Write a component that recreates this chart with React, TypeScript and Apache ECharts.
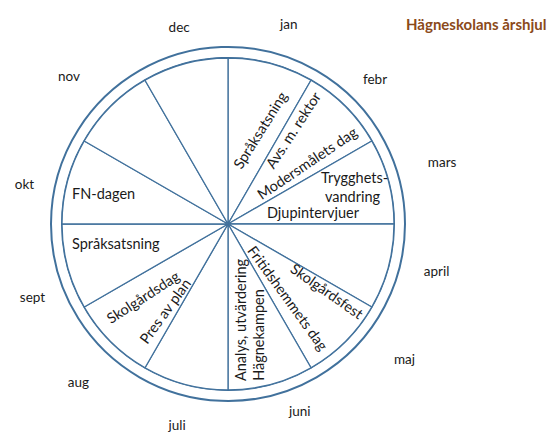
import React, { useEffect, useRef } from "react";
import * as echarts from "echarts";

// ---- data ----
const months = ["jan", "febr", "mars", "april", "maj", "juni", "juli", "aug", "sept", "okt", "nov", "dec"];
const monthShare = [1, 1, 1, 1, 1, 1, 1, 1, 1, 1, 1, 1];
const eventTexts = [
  "Språksatsning",
  "Avs. m. rektor",
  "Modersmålets dag",
  "Trygghets-",
  "vandring",
  "Djupintervjuer",
  "FN-dagen",
  "Språksatsning",
  "Skolgårdsdag",
  "Pres av plan",
  "Analys, utvärdering",
  "Hägnekampen",
  "Fritidshemmets dag",
  "Skolgårdsfest",
];
const eventMonths = ["jan", "febr", "febr", "mars", "mars", "mars", "okt", "sept", "aug", "aug", "juni", "juni", "maj", "maj"];
const titleText = "Hägneskolans årshjul";

// ---- layout (offsets from wheel centre, rotation in degrees) ----
const CX = 228;
const CY = 224;
const R_OUT = 177;
const R_IN = 166;
// per-month label nudges as padding [top, right, bottom, left]
const monthLabelPadding: number[][] = [
  [0, 0, 18, 28],
  [0, 0, 10, 7],
  [0, 0, 0, 25],
  [0, 0, 0, 21],
  [0, 0, 0, 38],
  [5, 0, 0, 50],
  [19, 8, 0, 0],
  [23, 11, 0, 0],
  [0, 8, 0, 0],
  [0, 19, 0, 0],
  [0, 20, 13, 0],
  [0, 4, 15, 0],
];
// vertical nudge for side labels (middle aligned): negative = up
const monthLabelVShift = [0, 0, -15, 0, 0, 0, 0, 0, 26, 7, 0, 0];

const eventLayout: { dx: number; dy: number; rot: number; align: string }[] = [
  { dx: 32, dy: -94, rot: 58, align: "center" },
  { dx: 65, dy: -94, rot: 57, align: "center" },
  { dx: 79, dy: -61, rot: 34, align: "center" },
  { dx: 93, dy: -47, rot: 0, align: "left" },
  { dx: 97, dy: -28, rot: 0, align: "left" },
  { dx: 85, dy: -12, rot: 0, align: "center" },
  { dx: -156, dy: -31, rot: 0, align: "left" },
  { dx: -156, dy: 19, rot: 0, align: "left" },
  { dx: -85, dy: 73, rot: 33, align: "center" },
  { dx: -63, dy: 87, rot: 54, align: "center" },
  { dx: 12, dy: 96, rot: 90, align: "center" },
  { dx: 30, dy: 111, rot: 90, align: "center" },
  { dx: 60, dy: 74, rot: -54, align: "center" },
  { dx: 99, dy: 67, rot: -35, align: "center" },
];

const LINE = "#41719C";
const FONT = "Lato, 'Open Sans', sans-serif";

export default function App() {
  const ref = useRef<HTMLDivElement>(null);
  useEffect(() => {
    if (!ref.current) return;
    const chart = echarts.init(ref.current, null, { renderer: "svg" });
    const graphics = eventTexts.map((t, i) => {
      const l = eventLayout[i];
      return {
        type: "text",
        x: CX + l.dx,
        y: CY + l.dy,
        rotation: (l.rot * Math.PI) / 180,
        z: 100,
        silent: true,
        info: eventMonths[i],
        style: {
          text: t,
          fill: "#1a1a1a",
          font: `14.5px ${FONT}`,
          align: l.align,
          verticalAlign: "middle",
        },
      };
    });
    chart.setOption({
      animation: false,
      backgroundColor: "#ffffff",
      title: {
        text: titleText,
        left: 401,
        top: 11,
        textStyle: { color: "#8B4A1A", fontSize: 15, fontWeight: "bold", fontFamily: FONT },
      },
      polar: [
        { center: [CX, CY], radius: R_OUT },
        { center: [CX, CY], radius: R_IN },
      ],
      angleAxis: [
        {
          polarIndex: 0,
          type: "category",
          data: months.map((m, i) => {
            const vs = monthLabelVShift[i];
            const ts: any = { padding: monthLabelPadding[i] };
            if (vs !== 0) ts.lineHeight = Math.abs(vs) * 2;
            return { value: m, textStyle: ts };
          }),
          startAngle: 90,
          clockwise: true,
          axisLine: { show: true, lineStyle: { color: LINE, width: 2 } },
          axisTick: { show: false },
          splitLine: { show: false },
          axisLabel: {
            margin: 4,
            fontSize: 13.5,
            color: "#1a1a1a",
            fontFamily: FONT,
            formatter: (value: string, index: number) => {
              const vs = monthLabelVShift[index];
              if (vs < 0) return value + "\n";
              if (vs > 0) return "\n" + value;
              return value;
            },
          },
        },
        {
          polarIndex: 1,
          type: "category",
          data: months,
          startAngle: 90,
          clockwise: true,
          axisLine: { show: true, lineStyle: { color: LINE, width: 2 } },
          axisTick: { show: false },
          splitLine: { show: false },
          axisLabel: { show: false },
        },
      ],
      radiusAxis: [
        { polarIndex: 0, type: "value", min: 0, max: 1, show: false },
        { polarIndex: 1, type: "value", min: 0, max: 1, show: false },
      ],
      series: [
        {
          type: "pie",
          center: [CX, CY],
          radius: [0, R_IN],
          startAngle: 90,
          clockwise: true,
          silent: true,
          label: { show: false },
          labelLine: { show: false },
          emphasis: { disabled: true },
          itemStyle: { color: "#ffffff", borderColor: LINE, borderWidth: 1.3 },
          data: months.map((m, i) => ({ name: m, value: monthShare[i] })),
          z: 1,
        },
      ],
      graphic: graphics,
    });
    return () => chart.dispose();
  }, []);
  return (
    <div
      ref={ref}
      style={{ position: "absolute", left: 0, top: 0, width: 550, height: 432 }}
    />
  );
}
